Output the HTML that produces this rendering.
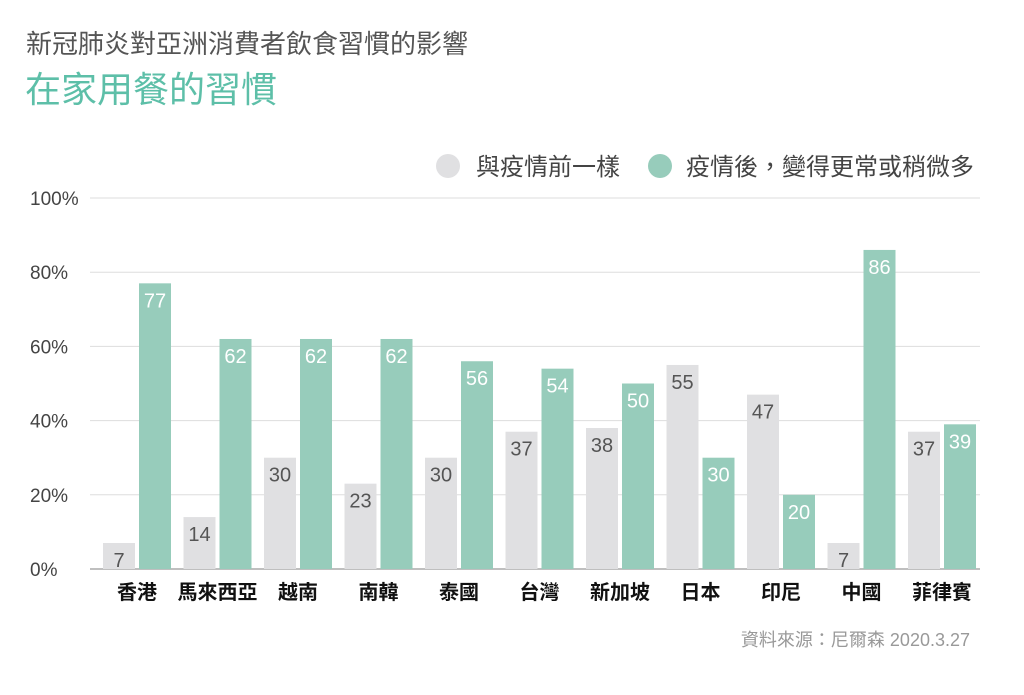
<!DOCTYPE html>
<html><head><meta charset="utf-8"><style>
body{margin:0;background:#fff;width:1024px;height:690px;overflow:hidden;font-family:"Liberation Sans","Noto Sans CJK TC",sans-serif}
</style></head><body>
<svg id="chart" width="1024" height="690" xmlns="http://www.w3.org/2000/svg" font-family="Liberation Sans, Noto Sans CJK TC, sans-serif">
<text x="26" y="53" font-size="26" fill="#555">新冠肺炎對亞洲消費者飲食習慣的影響</text>
<text x="25" y="102" font-size="36" fill="#5dbfa8">在家用餐的習慣</text>
<circle cx="448" cy="166" r="12" fill="#e0e0e2"/>
<text x="476" y="175" font-size="24" fill="#444">與疫情前一樣</text>
<circle cx="660" cy="166" r="12" fill="#97ccbb"/>
<text x="686" y="175" font-size="24" fill="#444">疫情後，變得更常或稍微多</text>
<g id="grid"></g><g id="bars"></g>
<text x="970" y="646" font-size="18" fill="#999" text-anchor="end">資料來源：尼爾森 2020.3.27</text>
</svg>
<script>
const categories=["香港","馬來西亞","越南","南韓","泰國","台灣","新加坡","日本","印尼","中國","菲律賓"];
const before=[7,14,30,23,30,37,38,55,47,7,37];
const after=[77,62,62,62,56,54,50,30,20,86,39];
const ticks=[0,20,40,60,80,100];
const NS="http://www.w3.org/2000/svg";
const y0=569,y100=198,x0=30,x1=980;
const y=v=>y0-(y0-y100)*v/100;
const gx=i=>119+i*80.5;
function mk(t,a,p){const e=document.createElementNS(NS,t);for(const k in a)e.setAttribute(k,a[k]);p.appendChild(e);return e;}
const grid=document.getElementById('grid'),bars=document.getElementById('bars');
ticks.forEach(t=>{
 const l=mk('line',{x1:x0+60,x2:x1,y1:y(t),y2:y(t),stroke:t===0?'#aaa':'#ddd','stroke-width':t===0?1.5:1},grid);
 
 
 const tx=mk('text',{x:30,y:y(t)+7,'font-size':19,fill:'#444'},grid);
 tx.textContent=t+'%';
 
 
});
categories.forEach((c,i)=>{
 const c0=gx(i);
 [[before[i],c0,'#e0e0e2','#555','before'],[after[i],c0+36,'#97ccbb','#fff','after']].forEach(([v,xc,f,tf,s])=>{
  const r=mk('rect',{x:xc-16,y:y(v),width:32,height:y0-y(v),fill:f},bars);
  
  
  const t=mk('text',{x:xc,y:y(v)+24,'font-size':20,fill:tf,'text-anchor':'middle'},bars);
  t.textContent=v;
  
  
 });
 const lb=mk('text',{x:c0+18,y:599,'font-size':20,'font-weight':'bold',fill:'#111','text-anchor':'middle'},bars);
 lb.textContent=c;
 
 
});
</script>
</body></html>
